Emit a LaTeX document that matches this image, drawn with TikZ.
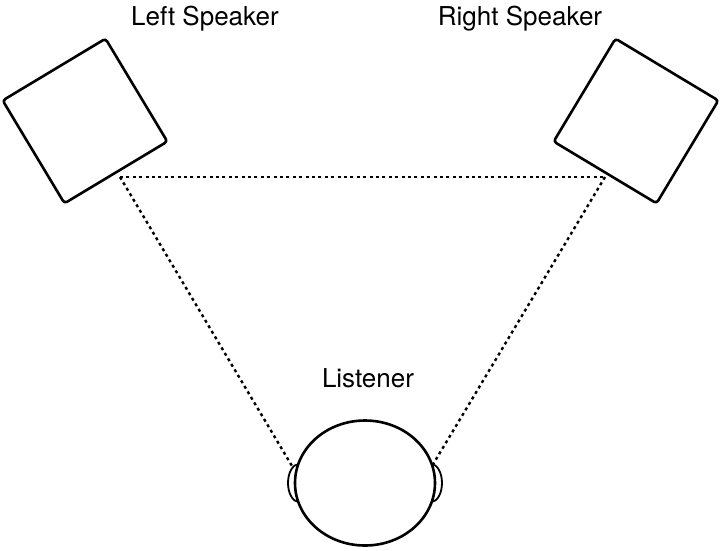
\documentclass[tikz,border=0pt]{standalone}
\usepackage{fontspec}
\setmainfont{TeX Gyre Heros}
\usetikzlibrary{shapes.geometric}
\begin{document}
\begin{tikzpicture}[x=1pt,y=-1pt,line width=2.6pt,
  spk/.style={draw,rounded corners=3pt,minimum size=120pt,inner sep=0pt},
  lbl/.style={font=\fontsize{26}{28}\selectfont},
  dot/.style={line width=2.4pt,dash pattern=on 3pt off 3.4pt}]
\useasboundingbox (0,0) rectangle (721,550);
\node[spk,rotate=31] (L) at (85,121) {};
\node[spk,rotate=-31] (R) at (636,121) {};
\node[lbl] (tl) at (205,19) {Left Speaker};
\node[lbl] (tr) at (520,19) {Right Speaker};
\node[lbl] (tn) at (368,378) {Listener};
\coordinate (a) at (120,177);
\coordinate (b) at (605,177);
\coordinate (c) at (292,466);
\coordinate (d) at (432,466);
\draw[dot] (a) -- (b);
\draw[dot] (a) -- (c);
\draw[dot] (b) -- (d);
\draw[fill=white,line width=1.8pt] (299,483) ellipse (11 and 19);
\draw[fill=white,line width=1.8pt] (431,483) ellipse (11 and 19);
\node[draw,fill=white,ellipse,minimum width=140pt,minimum height=125pt,inner sep=0pt] (H) at (365,483) {};
\end{tikzpicture}
\end{document}
